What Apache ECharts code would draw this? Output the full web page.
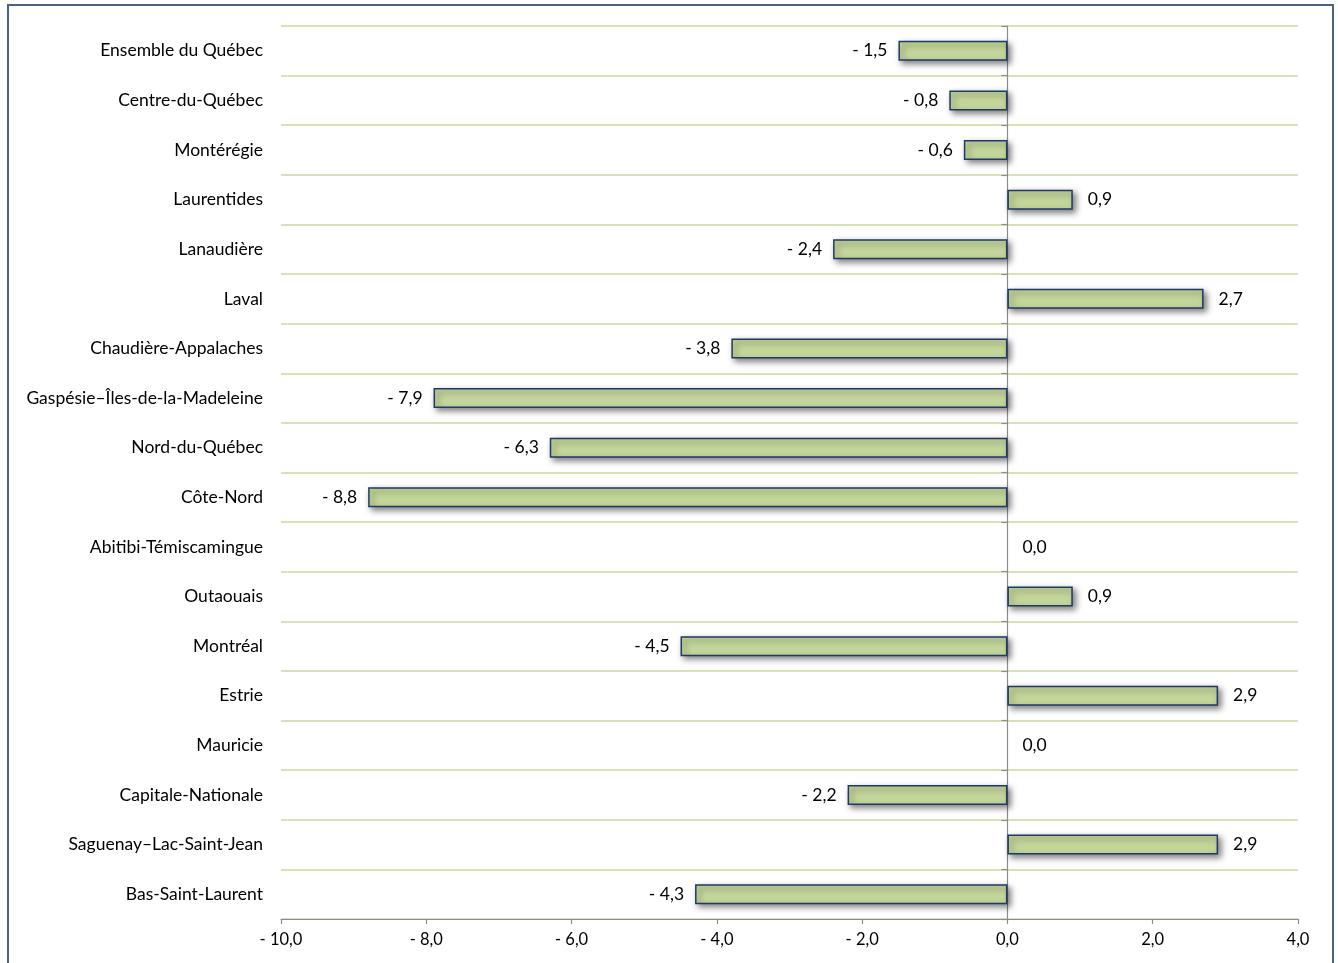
<!DOCTYPE html>
<html>
<head>
<meta charset="utf-8">
<script src="https://cdn.jsdelivr.net/npm/echarts@6/dist/echarts.min.js"></script>
<style>
  html, body { margin: 0; padding: 0; background: #ffffff; }
  #chart { width: 1338px; height: 963px; }
</style>
</head>
<body>
<div id="chart"></div>
<script>
// Regions, listed from top to bottom
const regions = [
  'Ensemble du Québec',
  'Centre-du-Québec',
  'Montérégie',
  'Laurentides',
  'Lanaudière',
  'Laval',
  'Chaudière-Appalaches',
  'Gaspésie–Îles-de-la-Madeleine',
  'Nord-du-Québec',
  'Côte-Nord',
  'Abitibi-Témiscamingue',
  'Outaouais',
  'Montréal',
  'Estrie',
  'Mauricie',
  'Capitale-Nationale',
  'Saguenay–Lac-Saint-Jean',
  'Bas-Saint-Laurent'
];

// Variation (%) for each region, same order
const variation = [
  -1.5, -0.8, -0.6, 0.9, -2.4, 2.7, -3.8, -7.9, -6.3,
  -8.8, 0.0, 0.9, -4.5, 2.9, 0.0, -2.2, 2.9, -4.3
];

// Value axis range
const axisMin = -10;
const axisMax = 4;
const axisStep = 2;

const FONT = 'Lato, "Open Sans", sans-serif';

// French-style number: comma decimal, spaced minus sign
function frNum(v) {
  const s = Math.abs(v).toFixed(1).replace('.', ',');
  return v < 0 ? '- ' + s : s;
}

const barData = variation.map(v => ({
  value: v,
  // a zero bar has no visible outline
  itemStyle: v === 0 ? { borderWidth: 0, shadowBlur: 0, shadowOffsetX: 0, shadowOffsetY: 0 } : undefined,
  label: v < 0
    ? { position: 'left', distance: 11 }
    : { position: 'right', distance: 15 }
}));

const chart = echarts.init(document.getElementById('chart'), null, { renderer: 'canvas' });

chart.setOption({
  animation: false,
  backgroundColor: '#ffffff',
  textStyle: { fontFamily: FONT },
  graphic: [{
    type: 'rect',
    shape: { x: 8, y: 5, width: 1325, height: 1000 },
    style: { fill: 'none', stroke: '#4b6282', lineWidth: 2 },
    silent: true,
    z: 10
  }],
  grid: { left: 281, right: 40, top: 26, bottom: 44 },
  xAxis: {
    type: 'value',
    min: axisMin,
    max: axisMax,
    interval: axisStep,
    axisLine: { show: true, onZero: false, lineStyle: { color: '#8c8c8c', width: 1.2 } },
    axisTick: { show: true, length: 5, lineStyle: { color: '#8c8c8c', width: 1.2 } },
    splitLine: { show: false },
    axisLabel: {
      margin: 12,
      fontFamily: FONT,
      fontSize: 16.5,
      color: '#000000',
      formatter: v => frNum(v)
    }
  },
  yAxis: [
    {
      // region names on the left, with the green row separators
      type: 'category',
      data: regions,
      inverse: true,
      position: 'left',
      axisLine: { show: false, onZero: false },
      axisTick: { show: false },
      splitLine: { show: true, lineStyle: { color: '#c8da9f', width: 1.5 } },
      axisLabel: {
        margin: 18,
        fontFamily: FONT,
        fontSize: 17.5,
        color: '#000000'
      }
    },
    {
      // vertical baseline at zero with small ticks between rows
      type: 'category',
      data: regions,
      inverse: true,
      position: 'left',
      axisLine: { show: true, onZero: true, onZeroAxisIndex: 0, lineStyle: { color: '#8c8c8c', width: 1.2 } },
      axisTick: { show: true, length: 6, lineStyle: { color: '#8c8c8c', width: 1.2 } },
      axisLabel: { show: false },
      splitLine: { show: false }
    }
  ],
  series: [{
    type: 'bar',
    yAxisIndex: 0,
    data: barData,
    barWidth: 20,
    itemStyle: {
      color: '#c4d79b',
      borderColor: '#1f3a68',
      borderWidth: 1.5,
      shadowColor: 'rgba(0,0,0,0.5)',
      shadowBlur: 6,
      shadowOffsetX: 3,
      shadowOffsetY: 3
    },
    label: {
      show: true,
      fontFamily: FONT,
      fontSize: 17.5,
      color: '#000000',
      formatter: p => frNum(p.value)
    }
  }]
});
</script>
</body>
</html>
